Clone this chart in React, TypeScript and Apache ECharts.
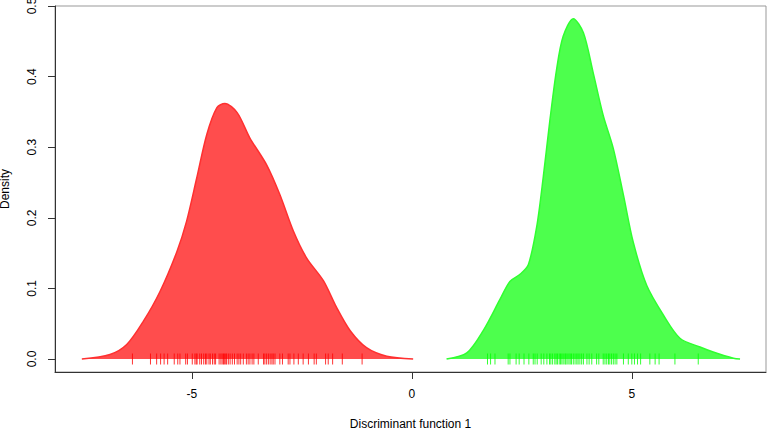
import { useEffect, useRef } from "react";
import * as echarts from "echarts";

// Density curve of group 1 (red)
const redX = [-7.5, -6.86, -6.48, -6.1, -5.72, -5.34, -5.12, -4.89, -4.66, -4.43, -4.25, -3.97, -3.68, -3.3, -3.0, -2.69, -2.39, -2.01, -1.71, -1.4, -1.03, -0.57, 0.03];
const redY = [0, 0.0064, 0.0205, 0.0536, 0.096, 0.152, 0.195, 0.256, 0.318, 0.356, 0.362, 0.349, 0.313, 0.275, 0.233, 0.181, 0.143, 0.111, 0.073, 0.04, 0.016, 0.004, 0];

// Density curve of group 2 (green)
const greenX = [0.79, 1.25, 1.63, 2.0, 2.23, 2.46, 2.65, 2.84, 2.99, 3.14, 3.29, 3.44, 3.67, 3.9, 4.12, 4.35, 4.58, 4.81, 5.03, 5.34, 5.72, 6.1, 6.55, 6.85, 7.31, 7.46];
const greenY = [0, 0.0087, 0.041, 0.084, 0.11, 0.12, 0.134, 0.188, 0.259, 0.339, 0.41, 0.457, 0.482, 0.462, 0.406, 0.345, 0.298, 0.232, 0.166, 0.104, 0.062, 0.029, 0.017, 0.0099, 0.0011, 0];

// Rug (individual observations)
const redRug = [-6.35, -5.94, -5.8, -5.71, -5.63, -5.55, -5.4, -5.32, -5.27, -5.14, -5.1, -4.99, -4.93, -4.9, -4.88, -4.82, -4.78, -4.73, -4.69, -4.66, -4.61, -4.58, -4.53, -4.49, -4.46, -4.38, -4.34, -4.31, -4.28, -4.26, -4.23, -4.21, -4.17, -4.13, -4.08, -4.03, -3.97, -3.93, -3.89, -3.83, -3.76, -3.72, -3.68, -3.63, -3.59, -3.49, -3.37, -3.34, -3.3, -3.26, -3.22, -3.18, -3.15, -3.11, -3.0, -2.94, -2.81, -2.77, -2.68, -2.58, -2.47, -2.35, -2.22, -2.17, -1.96, -1.9, -1.8, -1.58, -1.13];
const greenRug = [1.72, 1.79, 1.89, 2.19, 2.23, 2.37, 2.44, 2.55, 2.66, 2.76, 2.8, 2.85, 2.94, 3.0, 3.07, 3.13, 3.16, 3.2, 3.25, 3.28, 3.31, 3.35, 3.38, 3.41, 3.44, 3.48, 3.5, 3.53, 3.57, 3.6, 3.63, 3.67, 3.71, 3.75, 3.78, 3.82, 3.86, 3.9, 3.98, 4.03, 4.09, 4.2, 4.25, 4.35, 4.39, 4.43, 4.47, 4.5, 4.54, 4.58, 4.62, 4.66, 4.81, 4.92, 5.0, 5.06, 5.13, 5.2, 5.41, 5.53, 5.62, 5.98, 6.51];

const xTicks = [-5, 0, 5];
const yTicks = [0, 0.1, 0.2, 0.3, 0.4, 0.5];
const xTitle = "Discriminant function 1";
const yTitle = "Density";

const FONT = "'Liberation Sans', Arial, sans-serif";

export default function App() {
  const ref = useRef<HTMLDivElement>(null);
  useEffect(() => {
    const chart = echarts.init(ref.current!, null, { renderer: "svg" });
    chart.setOption({
      animation: false,
      backgroundColor: "#ffffff",
      grid: {
        left: 55,
        right: 1,
        top: 6,
        bottom: 56,
        containLabel: false,
        outerBoundsMode: "none",
        show: true,
        borderColor: "#999999",
        borderWidth: 1,
      },
      xAxis: {
        type: "value",
        min: -8.11,
        max: 8.05,
        name: xTitle,
        nameLocation: "middle",
        nameGap: 46,
        nameTextStyle: { fontFamily: FONT, fontSize: 12, color: "#000" },
        axisLine: { show: true, onZero: false, lineStyle: { color: "#333", width: 1 } },
        axisTick: { show: true, length: 7, customValues: xTicks, lineStyle: { color: "#333" } },
        axisLabel: {
          customValues: xTicks,
          margin: 16,
          fontFamily: FONT,
          fontSize: 12,
          color: "#000",
        },
        splitLine: { show: false },
      },
      yAxis: {
        type: "value",
        min: -0.0184,
        max: 0.5,
        name: yTitle,
        nameLocation: "middle",
        nameGap: 44,
        nameRotate: 90,
        nameTextStyle: { fontFamily: FONT, fontSize: 12, color: "#000" },
        axisLine: { show: true, onZero: false, lineStyle: { color: "#333", width: 1 } },
        axisTick: { show: true, length: 7, customValues: yTicks, lineStyle: { color: "#333" } },
        axisLabel: {
          customValues: yTicks,
          rotate: 90,
          margin: 17,
          fontFamily: FONT,
          fontSize: 12,
          color: "#000",
          formatter: (v: number) => v.toFixed(1),
        },
        splitLine: { show: false },
      },
      series: [
        {
          type: "line",
          data: redX.map((x, i) => [x, redY[i]]),
          smooth: 0.3,
          symbol: "none",
          lineStyle: { color: "#ff3030", width: 1.5 },
          areaStyle: { color: "#ff4d4d", opacity: 1 },
          z: 2,
        },
        {
          type: "line",
          data: greenX.map((x, i) => [x, greenY[i]]),
          smooth: 0.3,
          symbol: "none",
          lineStyle: { color: "#30ff30", width: 1.5 },
          areaStyle: { color: "#4dff4d", opacity: 1 },
          z: 2,
        },
        {
          type: "scatter",
          data: redRug.map((x) => [x, 0]),
          symbol: "rect",
          symbolSize: [1, 11],
          itemStyle: { color: "#ff0000" },
          z: 3,
        },
        {
          type: "scatter",
          data: greenRug.map((x) => [x, 0]),
          symbol: "rect",
          symbolSize: [1, 11],
          itemStyle: { color: "#00ff00" },
          z: 3,
        },
      ],
    });
    return () => chart.dispose();
  }, []);
  return (
    <div
      ref={ref}
      style={{ position: "absolute", left: 0, top: 0, width: 767, height: 428 }}
    />
  );
}
